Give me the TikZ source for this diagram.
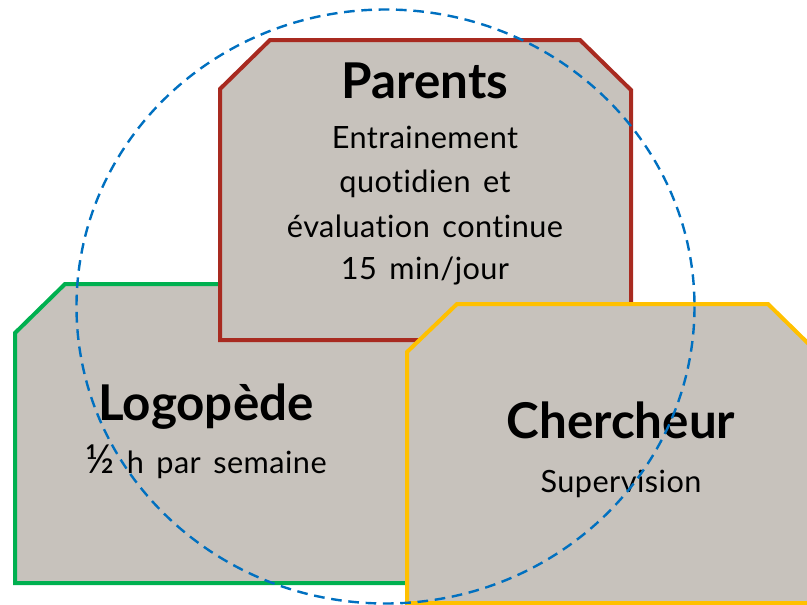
\documentclass[tikz,border=0pt]{standalone}
\usepackage{fontspec}
\setmainfont{Lato}[WordSpace=1.5, LetterSpace=1.5, Ligatures={NoCommon}]
\newfontfamily\headfont{Lato Bold}[Ligatures={NoCommon}]
\definecolor{boxfill}{RGB}{199,194,188}
\definecolor{redline}{RGB}{168,42,32}
\definecolor{greenline}{RGB}{0,176,80}
\definecolor{yellowline}{RGB}{255,192,0}
\definecolor{blueline}{RGB}{0,112,192}
\tikzset{
  shapebox/.style={fill=boxfill, line width=3pt, line join=miter},
  headtxt/.style={anchor=base, inner sep=0pt, font=\headfont\fontsize{37}{40}\selectfont},
  bodytxt/.style={anchor=base, inner sep=0pt, font=\fontsize{23}{28}\selectfont},
  ring/.style={draw=blueline, line width=1.8pt, dash pattern=on 8pt off 5pt}
}
\begin{document}
\begin{tikzpicture}[x=0.75pt,y=-0.75pt]
\useasboundingbox (0,0) rectangle (807,604);
% green (Logopede)
\draw[shapebox, draw=greenline] (15,333) -- (65,284) -- (510,284) -- (560,334) -- (560,583) -- (15,583) -- cycle;
% red (Parents)
\draw[shapebox, draw=redline] (220,89) -- (270,40) -- (580,40) -- (631,90) -- (631,340) -- (220,340) -- cycle;
% yellow (Chercheur)
\draw[shapebox, draw=yellowline] (407,352) -- (457,304) -- (768,304) -- (820,355) -- (820,603) -- (407,603) -- cycle;
% texts
\node[headtxt] (parents) at (425,98) {Parents};
\node[bodytxt] (p1) at (425,148) {Entrainement};
\node[bodytxt] (p2) at (425,192) {quotidien et};
\node[bodytxt] (p3) at (425,237) {évaluation continue};
\node[bodytxt] (p4) at (425,279) {15 min/jour};
\node[headtxt] (logo) at (206,420) {Logopède};
\node[bodytxt] (l1) at (206,473) {{\fontsize{30}{30}\selectfont ½} h par semaine};
\node[headtxt] (cherch) at (621,438) {Chercheur};
\node[bodytxt] (c1) at (621,492) {Supervision};
% dashed ellipse
\draw[ring] (385.5,306.5) ellipse [x radius=309, y radius=297];
\end{tikzpicture}
\end{document}
